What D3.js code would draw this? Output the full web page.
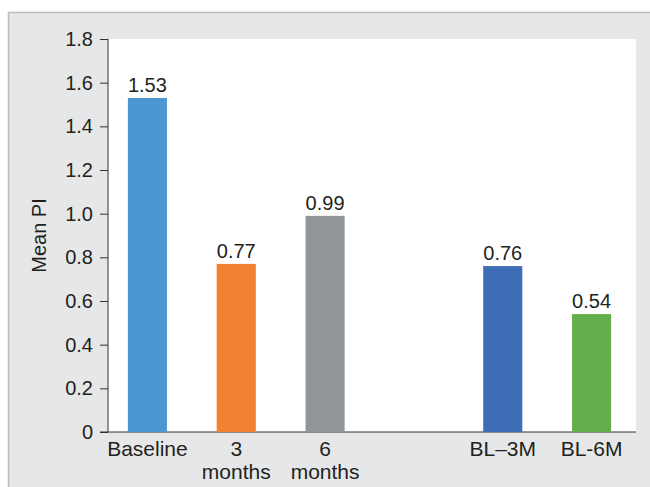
<!DOCTYPE html>
<html>
<head>
<meta charset="utf-8">
<script src="https://cdn.jsdelivr.net/npm/d3@7"></script>
<style>
  body { margin: 0; background: #fff; }
  svg text { font-family: "Liberation Sans", Arial, sans-serif; fill: #231f20; }
</style>
</head>
<body>
<div id="my_dataviz"></div>
<script>
// data
var categories = ['Baseline', '3 months', '6 months', '', 'BL\u20133M', 'BL-6M'];
var values     = [1.53, 0.77, 0.99, null, 0.76, 0.54];
var labels     = ['1.53', '0.77', '0.99', '', '0.76', '0.54'];
var colors     = ['#4b97d3', '#f28232', '#939698', null, '#3e6cb5', '#63ae4d'];
var yTicks     = [0, 0.2, 0.4, 0.6, 0.8, 1.0, 1.2, 1.4, 1.6, 1.8];

var W = 650, H = 487;
var plot = {left: 108, right: 636, top: 39, bottom: 432};

var svg = d3.select("#my_dataviz")
  .append("svg")
    .attr("width", W)
    .attr("height", H);

// grey panel with a thin frame on top and left
svg.append("rect")
  .attr("x", 8).attr("y", 12)
  .attr("width", W).attr("height", H)
  .style("fill", "#e6e7e9");
svg.append("path")
  .attr("d", "M8.5," + H + "V12.5H" + W)
  .style("fill", "none")
  .style("stroke", "#bdbdbd")
  .style("stroke-width", 1.5);

// white plotting area
svg.append("rect")
  .attr("x", plot.left).attr("y", plot.top)
  .attr("width", plot.right - plot.left)
  .attr("height", plot.bottom - plot.top)
  .style("fill", "#ffffff");

var x = d3.scaleBand()
  .domain(d3.range(categories.length))
  .range([plot.left - 5, plot.right])
  .paddingInner(0.56)
  .paddingOuter(0.28);

var y = d3.scaleLinear()
  .domain([0, 1.8])
  .range([plot.bottom, plot.top]);

// Y axis
var yAxis = svg.append("g")
  .attr("transform", "translate(" + plot.left + ",0)")
  .call(d3.axisLeft(y)
    .tickValues(yTicks)
    .tickSize(8)
    .tickPadding(7)
    .tickFormat(function(d) { return d === 0 ? "0" : d3.format(".1f")(d); }));
yAxis.select(".domain").remove();
yAxis.append("line")
  .attr("x1", 0).attr("x2", 0)
  .attr("y1", plot.top).attr("y2", plot.bottom)
  .style("stroke", "#333");
yAxis.selectAll(".tick line").style("stroke", "#333");
yAxis.selectAll(".tick text")
  .style("font-size", "20px")
  .style("font-family", "'Liberation Sans', Arial, sans-serif")
  .style("fill", "#231f20");

// X axis line (runs from the 0 tick to the right edge)
svg.append("line")
  .attr("x1", plot.left - 8).attr("x2", plot.right)
  .attr("y1", plot.bottom).attr("y2", plot.bottom)
  .style("stroke", "#333");

var data = categories.map(function(c, i) {
  return {cat: c, i: i, v: values[i], label: labels[i], color: colors[i]};
}).filter(function(d) { return d.v !== null; });

// Bars
svg.selectAll("mybar")
  .data(data)
  .enter()
  .append("rect")
    .attr("x", function(d) { return x(d.i); })
    .attr("y", function(d) { return y(d.v); })
    .attr("width", x.bandwidth())
    .attr("height", function(d) { return y(0) - y(d.v); })
    .style("fill", function(d) { return d.color; });

// Value labels
svg.selectAll("mylabel")
  .data(data)
  .enter()
  .append("text")
    .attr("x", function(d) { return x(d.i) + x.bandwidth() / 2; })
    .attr("y", function(d) { return y(d.v) - 6; })
    .attr("text-anchor", "middle")
    .style("font-size", "20px")
    .text(function(d) { return d.label; });

// Category labels, split in two lines where needed
var cat = svg.selectAll("mycat")
  .data(data)
  .enter()
  .append("text")
    .attr("text-anchor", "middle")
    .style("font-size", "21px")
    .attr("transform", function(d) {
      return "translate(" + (x(d.i) + x.bandwidth() / 2) + "," + (plot.bottom + 24) + ")";
    });
cat.selectAll("tspan")
  .data(function(d) { return d.cat.split(" "); })
  .enter()
  .append("tspan")
    .attr("x", 0)
    .attr("dy", function(d, i) { return i === 0 ? 0 : 23; })
    .text(function(d) { return d; });

// Y axis title
svg.append("text")
  .attr("transform", "translate(46," + ((plot.top + plot.bottom) / 2) + ") rotate(-90)")
  .attr("text-anchor", "middle")
  .style("font-size", "20px")
  .text("Mean PI");
</script>
</body>
</html>
